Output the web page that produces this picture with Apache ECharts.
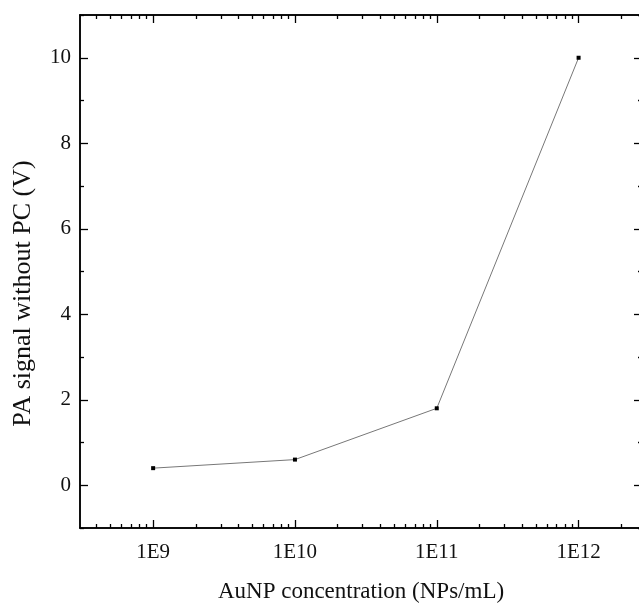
<!DOCTYPE html>
<html><head><meta charset="utf-8">
<script src="https://cdn.jsdelivr.net/npm/echarts@6/dist/echarts.min.js"></script>
<style>html,body{margin:0;padding:0;background:#fff}#c{width:639px;height:605px}</style>
</head><body><div id="c"></div>
<script>
const xValues = [1e9, 1e10, 1e11, 1e12];
const yValues = [0.4, 0.6, 1.8, 10];
const xMajorTicks = [1e9, 1e10, 1e11, 1e12];
const xMinorTicks = [4e8,5e8,6e8,7e8,8e8,9e8, 2e9,3e9,4e9,5e9,6e9,7e9,8e9,9e9, 2e10,3e10,4e10,5e10,6e10,7e10,8e10,9e10, 2e11,3e11,4e11,5e11,6e11,7e11,8e11,9e11, 2e12];
const yMajorTicks = [0, 2, 4, 6, 8, 10];
const yMinorTicks = [-1, 1, 3, 5, 7, 9, 11];
const xName = 'AuNP concentration (NPs/mL)';
const yName = 'PA signal without PC (V)';

const FONT = "'Liberation Serif','Times New Roman',serif";
const X_MIN = 3.05e8, X_MAX = 2.8e12, Y_MIN = -1, Y_MAX = 11;

function xAxisDef(pos, major, show) {
  return {
    type: 'log', position: pos, min: X_MIN, max: X_MAX, logBase: 10,
    axisLine: {show: true, onZero: false, lineStyle: {color: '#000', width: 1.5}},
    axisTick: {show: true, inside: true, length: major ? 8 : 4, lineStyle: {color: '#000', width: 1.3},
               customValues: major ? xMajorTicks : xMinorTicks},
    axisLabel: {show: show, margin: 14, color: '#111', fontFamily: FONT, fontSize: 21,
                customValues: xMajorTicks,
                formatter: v => '1E' + Math.round(Math.log10(v))},
    splitLine: {show: false},
    name: show ? xName : '', nameLocation: 'middle', nameGap: 52,
    nameTextStyle: {color: '#111', fontFamily: FONT, fontSize: 23}
  };
}
function yAxisDef(pos, major, show) {
  return {
    type: 'value', position: pos, min: Y_MIN, max: Y_MAX,
    axisLine: {show: true, onZero: false, lineStyle: {color: '#000', width: 1.5}},
    axisTick: {show: true, inside: true, length: major ? 8 : 4, lineStyle: {color: '#000', width: 1.3},
               customValues: major ? yMajorTicks : yMinorTicks},
    axisLabel: {show: show, margin: 9, color: '#111', fontFamily: FONT, fontSize: 21,
                customValues: yMajorTicks},
    splitLine: {show: false},
    name: show ? yName : '', nameLocation: 'middle', nameGap: 44,
    nameTextStyle: {color: '#111', fontFamily: FONT, fontSize: 26, padding: [0, 44, 0, 0]}
  };
}

const chart = echarts.init(document.getElementById('c'));
chart.setOption({
  animation: false,
  grid: {left: 80, top: 15, width: 562, height: 513, containLabel: false, outerBoundsMode: 'none'},
  xAxis: [xAxisDef('bottom', true, true), xAxisDef('bottom', false, false),
          xAxisDef('top', true, false), xAxisDef('top', false, false)],
  yAxis: [yAxisDef('left', true, true), yAxisDef('left', false, false),
          yAxisDef('right', true, false), yAxisDef('right', false, false)],
  series: [{
    type: 'line', xAxisIndex: 0, yAxisIndex: 0,
    data: xValues.map((x, i) => [x, yValues[i]]),
    symbol: 'rect', symbolSize: 4, showSymbol: true,
    itemStyle: {color: '#000'},
    lineStyle: {color: '#777', width: 1}
  }]
});
</script></body></html>
